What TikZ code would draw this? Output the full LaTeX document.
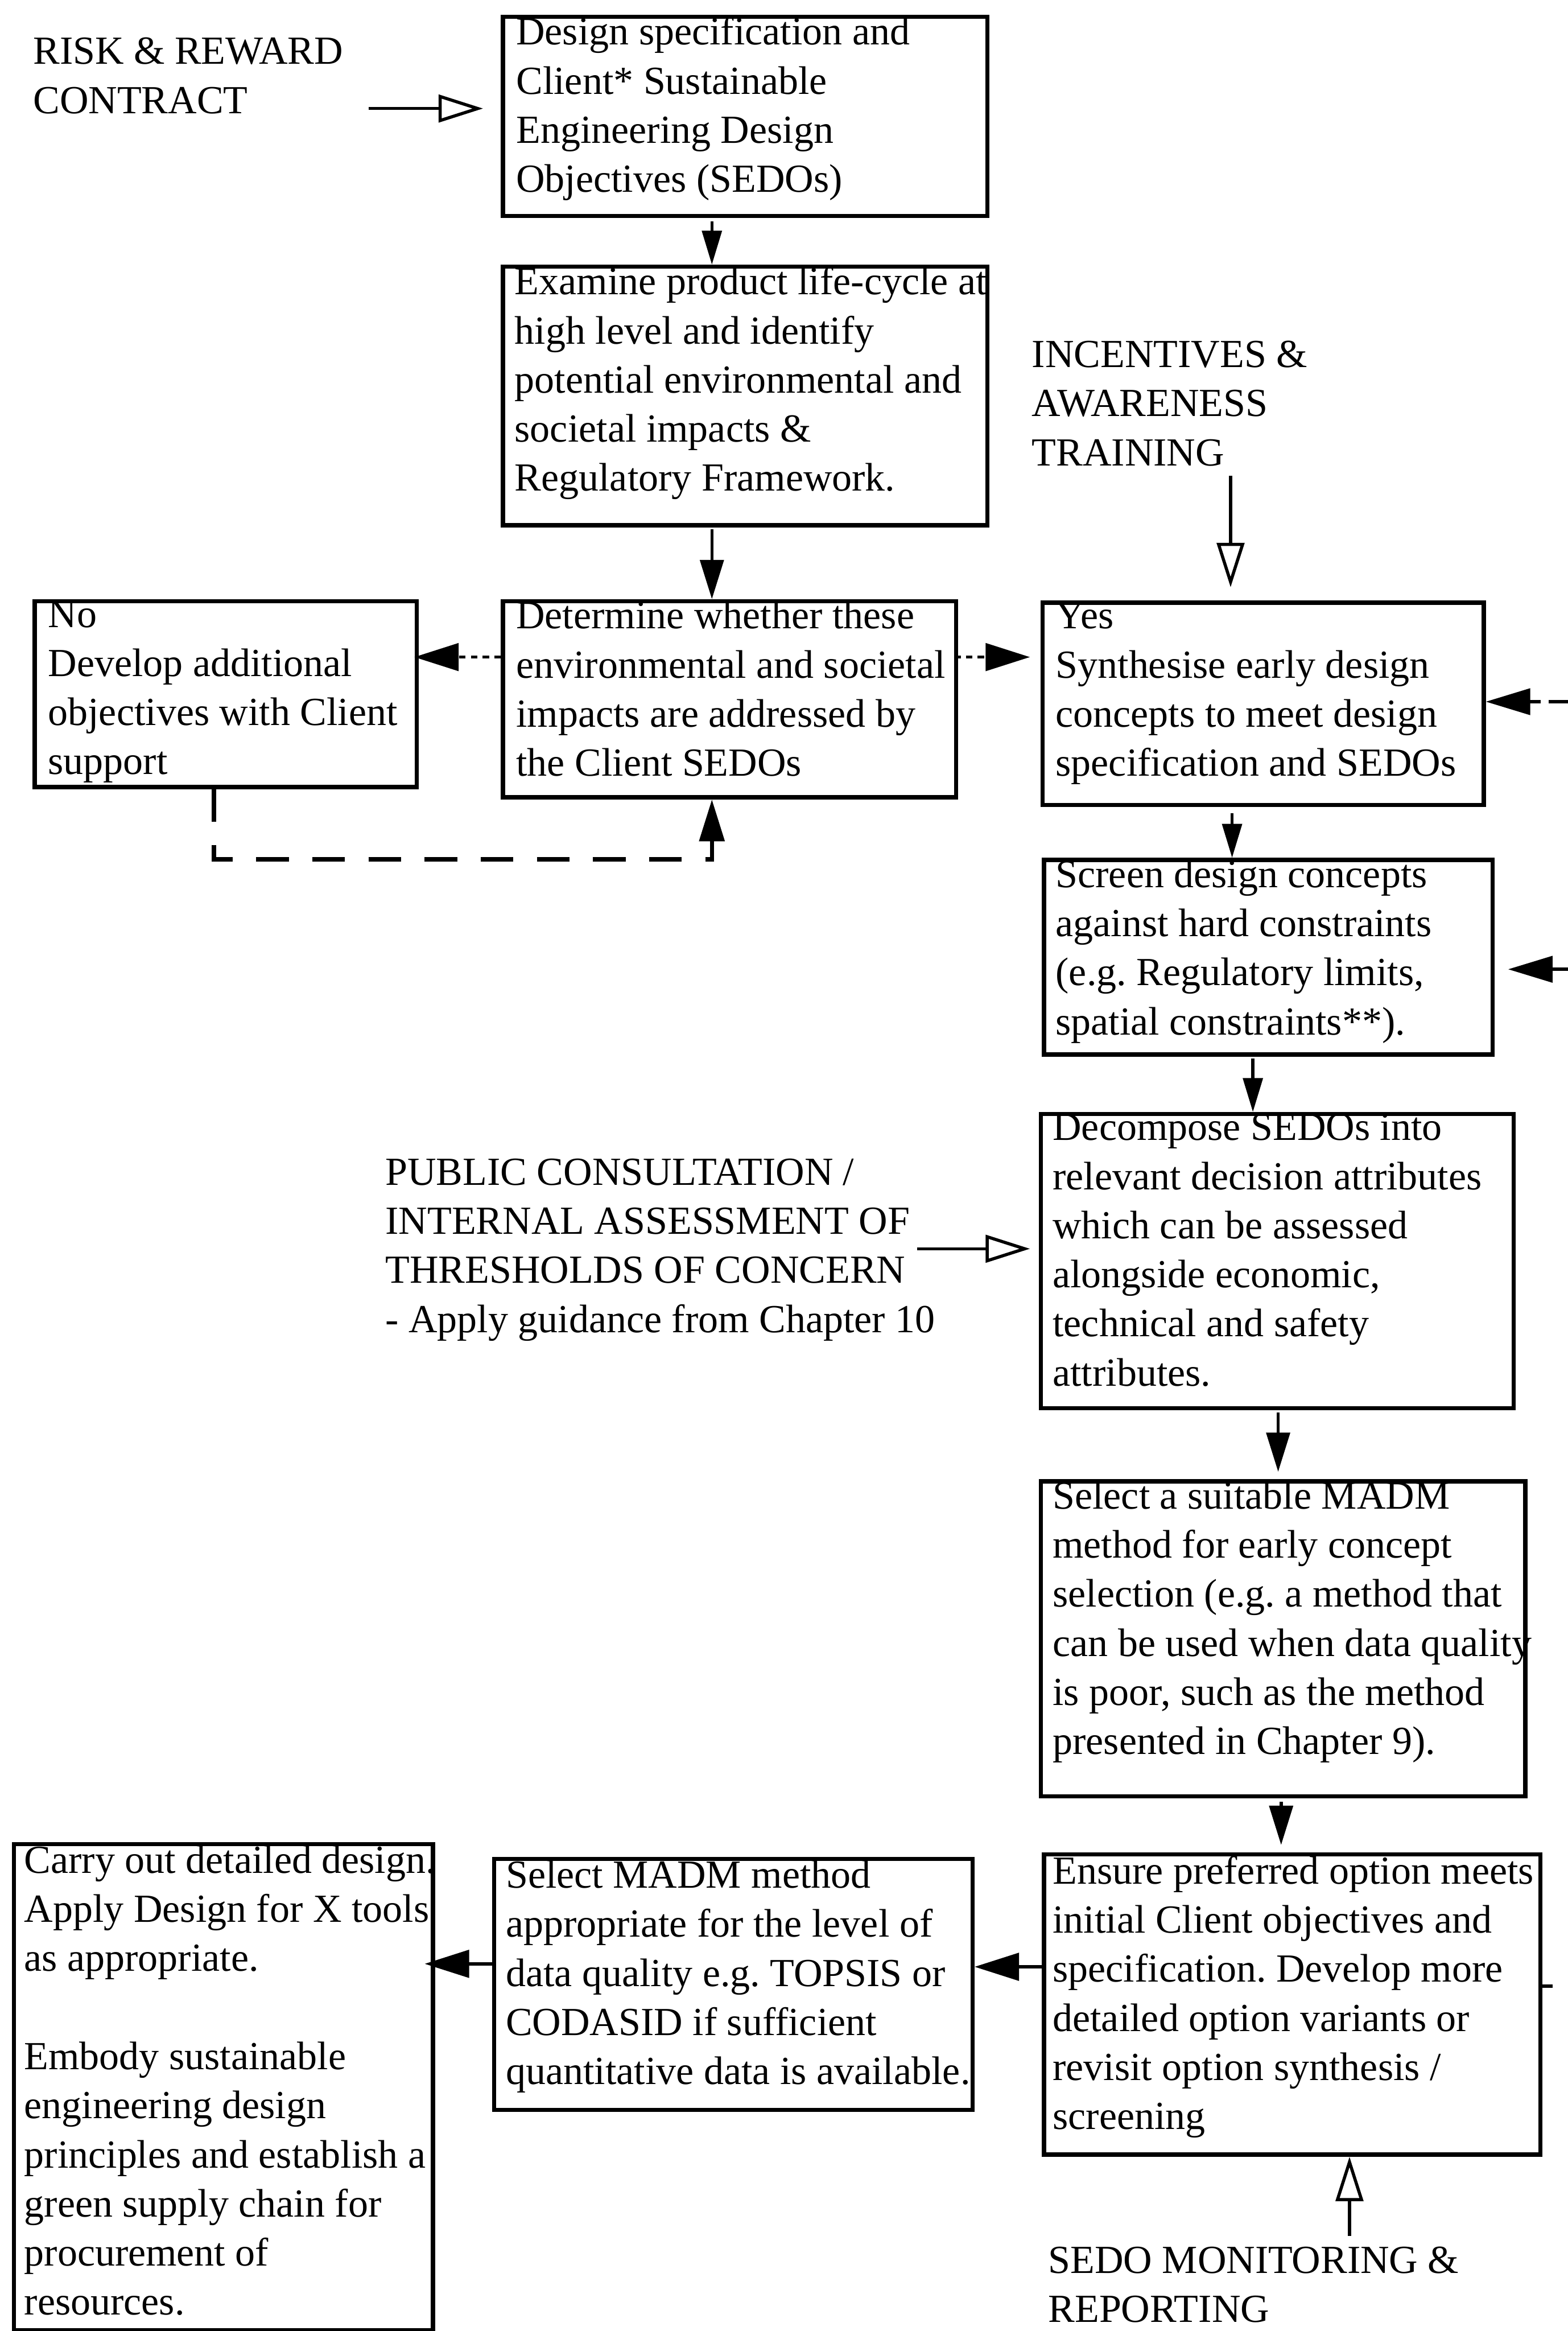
\documentclass[tikz,border=0pt]{standalone}
\usepackage{fontspec}
\setmainfont{Liberation Serif}
\usetikzlibrary{arrows.meta}
\newcommand\boxfont{\fontsize{15.25pt}{18.8pt}\selectfont}
\frenchspacing

\begin{document}
\begin{tikzpicture}[x=0.02cm, y=-0.02cm,
  boxst/.style={draw, line width=1.6pt, inner sep=0pt, anchor=north west},
  txt/.style={inner sep=0pt, anchor=north west, align=left, font=\boxfont},
  flowv/.style={line width=1.2pt, -{Triangle[length=13pt, width=7.5pt]}},
  flowbig/.style={line width=1.2pt, -{Triangle[length=15pt, width=9pt]}},
  flowh/.style={line width=1.2pt, -{Triangle[length=17pt, width=10.5pt]}},
  dashflow/.style={line width=1.2pt, dash pattern=on 2.5pt off 2pt, -{Triangle[length=17pt, width=10.5pt]}},
  feedback/.style={line width=1.2pt, dash pattern=on 7.4pt off 3.1pt, -{Triangle[length=17pt, width=10pt]}},
  feedtail/.style={line width=1.2pt, dash pattern=on 4pt off 6.2pt},
  loopst/.style={line width=1.6pt, dash pattern=on 12.5pt off 9pt, -{Triangle[length=16pt, width=9.5pt]}},
  input/.style={line width=1.2pt, -{Triangle[open, length=17pt, width=10.5pt, line width=1.2pt]}}
]
\useasboundingbox (0,0) rectangle (1055,1568);

% ---------- boxes ----------
\node[boxst, minimum width=6.52cm, minimum height=2.68cm] (b1)   at (337,10)   {};
\node[boxst, minimum width=6.52cm, minimum height=3.48cm] (b2)   at (337,178)  {};
\node[boxst, minimum width=5.14cm, minimum height=2.50cm] (bNo)  at (22,403)   {};
\node[boxst, minimum width=6.10cm, minimum height=2.64cm] (bDet) at (337,403)  {};
\node[boxst, minimum width=5.94cm, minimum height=2.72cm] (bYes) at (700,404)  {};
\node[boxst, minimum width=6.04cm, minimum height=2.62cm] (bScr) at (701,577)  {};
\node[boxst, minimum width=6.36cm, minimum height=3.96cm] (bDec) at (699,748)  {};
\node[boxst, minimum width=6.52cm, minimum height=4.24cm] (bSel) at (699,995)  {};
\node[boxst, minimum width=6.68cm, minimum height=4.04cm] (bEns) at (701,1246) {};
\node[boxst, minimum width=6.44cm, minimum height=3.38cm] (bMad) at (331,1249) {};
\node[boxst, minimum width=5.64cm, minimum height=6.54cm] (bCar) at (8,1239)   {};

% ---------- box texts ----------
\node[txt] (t1) at (347,11) {Design specification and\\Client* Sustainable\\Engineering Design\\Objectives (SEDOs)};
\node[txt] (t2) at (346,179) {Examine product life-cycle at\\high level and identify\\potential environmental and\\societal impacts \&\\Regulatory Framework.};
\node[txt] (tNo) at (32,404) {No\\Develop additional\\objectives with Client\\support};
\node[txt] (tDet) at (347,404) {Determine whether these\\environmental and societal\\impacts are addressed by\\the Client SEDOs};
\node[txt] (tYes) at (710,405) {Yes\\Synthesise early design\\concepts to meet design\\specification and SEDOs};
\node[txt] (tScr) at (710,578) {Screen design concepts\\against hard constraints\\(e.g. Regulatory limits,\\spatial constraints**).};
\node[txt] (tDec) at (708,749) {Decompose SEDOs into\\relevant decision attributes\\which can be assessed\\alongside economic,\\technical and safety\\attributes.};
\node[txt] (tSel) at (708,996) {Select a suitable MADM\\method for early concept\\selection (e.g. a method that\\can be used when data quality\\is poor, such as the method\\presented in Chapter 9).};
\node[txt] (tEns) at (708,1248) {Ensure preferred option meets\\initial Client objectives and\\specification. Develop more\\detailed option variants or\\revisit option synthesis /\\screening};
\node[txt] (tMad) at (340,1251) {Select MADM method\\appropriate for the level of\\data quality e.g. TOPSIS or\\CODASID if sufficient\\quantitative data is available.};
\node[txt] (tCar) at (16,1241) {Carry out detailed design.\\Apply Design for X tools\\as appropriate.\\[18.8pt]Embody sustainable\\engineering design\\principles and establish a\\green supply chain for\\procurement of\\resources.};

% ---------- free labels ----------
\node[txt] (lRisk) at (22,25) {RISK \& REWARD\\CONTRACT};
\node[txt] (lInc) at (694,229) {INCENTIVES \&\\AWARENESS\\TRAINING};
\node[txt] (lPub) at (259,779) {PUBLIC CONSULTATION /\\INTERNAL ASSESSMENT OF\\THRESHOLDS OF CONCERN\\- Apply guidance from Chapter 10};
\node[txt] (lSedo) at (705,1511) {SEDO MONITORING \&\\REPORTING};

% ---------- external inputs (open heads) ----------
\coordinate (iRisk) at (248,73);
\draw[input, shorten >=0.24cm] (iRisk) -- (iRisk -| b1.west);
\coordinate (iInc) at (828,320);
\draw[input, shorten >=0.18cm] (iInc) -- (iInc |- bYes.north);
\coordinate (iPub) at (617,840);
\draw[input, shorten >=0.12cm] (iPub) -- (iPub -| bDec.west);
\coordinate (iSedo) at (908,1504);
\draw[input] (iSedo) -- (iSedo |- bEns.south);

% ---------- main flow ----------
\coordinate (a12) at (479,149);
\draw[flowv] (a12) -- (a12 |- b2.north);
\coordinate (a2D) at (479,356);
\draw[flowbig] (a2D) -- (a2D |- bDet.north);
\coordinate (aYS) at (829,547);
\draw[flowv] (aYS) -- (aYS |- bScr.north);
\coordinate (aSD) at (843,712);
\draw[flowv] (aSD) -- (aSD |- bDec.north);
\coordinate (aDS) at (860,950);
\draw[flowbig, shorten >=0.1cm] (aDS) -- (aDS |- bSel.north);
\coordinate (aSE) at (862,1212);
\draw[flowbig, shorten >=0.1cm] (aSE) -- (aSE |- bEns.north);

\coordinate (sEM) at (701,1323);
\draw[flowh] (sEM) -- (sEM -| bMad.east);
\coordinate (sMC) at (331,1321);
\draw[flowh, shorten >=-0.14cm] (sMC) -- (sMC -| bCar.east);

% ---------- decision branches ----------
\coordinate (sDN) at (337,442);
\draw[dashflow, shorten >=-0.06cm] (sDN) -- (sDN -| bNo.east);
\coordinate (sDY) at (642,442);
\draw[dashflow, shorten >=0.14cm] (sDY) -- (sDY -| bYes.west);

% loop back from "No" to the check
\coordinate (lc1) at (144,578);
\coordinate (lc2) at (479,578);
\draw[loopst] (lc1 |- bNo.south) -- (lc1) -- (lc2) -- (lc2 |- bDet.south);

% ---------- feedback lines from the right ----------
\coordinate (eY) at (1055,472);
\draw[feedback] (eY) -- (eY -| bYes.east);
\coordinate (eS) at (1055,652);
\draw[feedback, shorten >=0.18cm] (eS) -- (eS -| bScr.east);
\coordinate (eE) at (1055,1336);
\draw[feedtail] (eE -| bEns.east) -- (eE);

\end{tikzpicture}
\end{document}
